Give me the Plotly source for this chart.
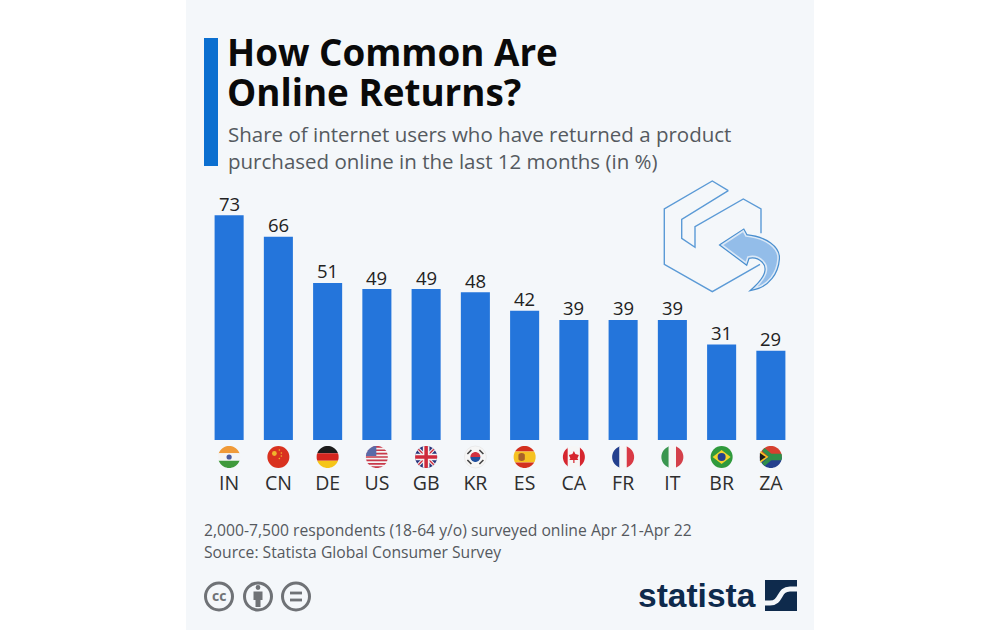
import math
import plotly.graph_objects as go

categories = ["IN", "CN", "DE", "US", "GB", "KR", "ES", "CA", "FR", "IT", "BR", "ZA"]
shares = [73, 66, 51, 49, 49, 48, 42, 39, 39, 39, 31, 29]

title_lines = ["How Common Are", "Online Returns?"]
subtitle_lines = ["Share of internet users who have returned a product",
                  "purchased online in the last 12 months (in %)"]
footer_lines = ["2,000-7,500 respondents (18-64 y/o) surveyed online Apr 21-Apr 22",
                "Source: Statista Global Consumer Survey"]

BAR_BLUE = "#2475db"
NAVY = "#0e2a4c"
CARD = "#f4f7fa"
FONT = "Open Sans"
W, H = 1000, 630
PLOT_LEFT, PLOT_RIGHT = 204.5, 795.5
BASE_Y, TOP_Y = 440, 193.6
STEP = (PLOT_RIGHT - PLOT_LEFT) / len(categories)

shapes = []


def fx(x):
    return x / W


def fy(y):
    return 1 - y / H


def poly(points, fill):
    d = "M " + " L ".join(f"{fx(x):.5f},{fy(y):.5f}" for x, y in points) + " Z"
    shapes.append(dict(type="path", xref="paper", yref="paper", path=d, fillcolor=fill,
                       line=dict(width=0), layer="above"))


def curve(cmds, fill=None, color=None, width=1.5):
    # cmds: list of (letter, x1, y1, x2, y2 ...) in pixels
    parts = []
    for c in cmds:
        vals = c[1:]
        pts = [f"{fx(vals[i]):.5f},{fy(vals[i + 1]):.5f}" for i in range(0, len(vals), 2)]
        parts.append(c[0] + " " + " ".join(pts))
    shapes.append(dict(type="path", xref="paper", yref="paper", path=" ".join(parts),
                       fillcolor=fill if fill else "rgba(0,0,0,0)",
                       line=dict(color=color if color else "rgba(0,0,0,0)", width=width if color else 0),
                       layer="above"))


def seg(x0, y0, x1, y1, color, width):
    shapes.append(dict(type="line", xref="paper", yref="paper", x0=fx(x0), y0=fy(y0), x1=fx(x1), y1=fy(y1),
                       line=dict(color=color, width=width), layer="above"))


def disc(cx, cy, r, fill, line=None, width=0):
    shapes.append(dict(type="circle", xref="paper", yref="paper", x0=fx(cx - r), x1=fx(cx + r),
                       y0=fy(cy + r), y1=fy(cy - r), fillcolor=fill,
                       line=dict(color=line if line else "rgba(0,0,0,0)", width=width), layer="above"))


def clip_rect(cx, cy, r, u0, v0, u1, v1, fill):
    # rectangle in unit flag coordinates (-1..1), cut to the flag's circle
    pts = []
    for k in range(48):
        a = 2 * math.pi * k / 48
        u = min(max(math.cos(a), u0), u1)
        v = min(max(math.sin(a), v0), v1)
        pts.append((cx + u * r, cy + v * r))
    poly(pts, fill)


def stripes_h(cx, cy, r, colors, cuts):
    for i, c in enumerate(colors):
        clip_rect(cx, cy, r, -1, cuts[i], 1, cuts[i + 1], c)


def stripes_v(cx, cy, r, colors, cuts):
    for i, c in enumerate(colors):
        clip_rect(cx, cy, r, cuts[i], -1, cuts[i + 1], 1, c)


def flag(code, cx, cy, r):
    third = [-1, -0.33, 0.33, 1]
    if code == "IN":
        stripes_h(cx, cy, r, ["#f09a38", "#f4f4f4", "#3f9a3c"], third)
        disc(cx, cy, 2.6, "#4a5a9e")
    elif code == "CN":
        disc(cx, cy, r, "#d9321f")
        disc(cx - 4, cy - 3.5, 2.4, "#f0b52c")
        for dx, dy in [(1, -7), (3, -4), (3, -1), (1, 1.5)]:
            disc(cx + dx, cy + dy, 0.8, "#f0b52c")
    elif code == "DE":
        stripes_h(cx, cy, r, ["#1c1c1c", "#d4261f", "#f5c518"], third)
    elif code == "US":
        disc(cx, cy, r, "#f4f4f4")
        for i in range(0, 7):
            v0 = -1 + i * 2 / 6.5
            clip_rect(cx, cy, r, -1, v0, 1, v0 + 0.155, "#c8394a")
        clip_rect(cx, cy, r, -1, -1, -0.05, -0.08, "#5a6aa8")
    elif code == "GB":
        disc(cx, cy, r, "#27327a")
        d = r * 0.7
        seg(cx - d, cy - d, cx + d, cy + d, "#f4f4f4", 3.4)
        seg(cx - d, cy + d, cx + d, cy - d, "#f4f4f4", 3.4)
        seg(cx - d, cy - d, cx + d, cy + d, "#cf2a3c", 1.3)
        seg(cx - d, cy + d, cx + d, cy - d, "#cf2a3c", 1.3)
        clip_rect(cx, cy, r, -0.3, -1, 0.3, 1, "#f4f4f4")
        clip_rect(cx, cy, r, -1, -0.3, 1, 0.3, "#f4f4f4")
        clip_rect(cx, cy, r, -0.16, -1, 0.16, 1, "#cf2a3c")
        clip_rect(cx, cy, r, -1, -0.16, 1, 0.16, "#cf2a3c")
    elif code == "KR":
        disc(cx, cy, r, "#f6f6f6", "#e2e2e2", 0.6)
        clip_rect(cx, cy, 5, -1, -1, 1, 0, "#d1303f")
        clip_rect(cx, cy, 5, -1, 0, 1, 1, "#1f4f9e")
        seg(cx - 8, cy - 3, cx - 4, cy - 7, "#444444", 1.6)
        seg(cx + 4, cy - 7, cx + 8, cy - 3, "#444444", 1.6)
        seg(cx - 8, cy + 3, cx - 4, cy + 7, "#444444", 1.6)
        seg(cx + 4, cy + 7, cx + 8, cy + 3, "#444444", 1.6)
    elif code == "ES":
        stripes_h(cx, cy, r, ["#d3301f", "#f6c221", "#d3301f"], [-1, -0.5, 0.5, 1])
        clip_rect(cx - 3, cy, 4, -0.8, -1, 0.8, 1, "#a8622a")
    elif code == "CA":
        stripes_v(cx, cy, r, ["#d6262f", "#f6f6f6", "#d6262f"], [-1, -0.55, 0.55, 1])
        poly([(cx, cy - 6), (cx + 1.5, cy - 3), (cx + 5, cy - 2), (cx + 3.5, cy + 1.5), (cx + 4.5, cy + 3),
              (cx + 0.6, cy + 3), (cx + 0.6, cy + 6), (cx - 0.6, cy + 6), (cx - 0.6, cy + 3), (cx - 4.5, cy + 3),
              (cx - 3.5, cy + 1.5), (cx - 5, cy - 2), (cx - 1.5, cy - 3)], "#d6262f")
    elif code == "FR":
        stripes_v(cx, cy, r, ["#24408e", "#f6f6f6", "#d93a45"], third)
    elif code == "IT":
        stripes_v(cx, cy, r, ["#3a9650", "#f6f6f6", "#d4404a"], third)
    elif code == "BR":
        disc(cx, cy, r, "#2f9a3c")
        poly([(cx - 9, cy), (cx, cy - 7), (cx + 9, cy), (cx, cy + 7)], "#f3d22b")
        disc(cx, cy, 4, "#24408e")
    elif code == "ZA":
        clip_rect(cx, cy, r, -1, -1, 1, 0, "#d6402f")
        clip_rect(cx, cy, r, -1, 0, 1, 1, "#24408e")
        clip_rect(cx, cy, r, -0.2, -0.3, 1, 0.3, "#2f8f4a")
        seg(cx - 7.5, cy - 7.5, cx + 1, cy, "#2f8f4a", 4)
        seg(cx - 7.5, cy + 7.5, cx + 1, cy, "#2f8f4a", 4)
        poly([(cx - 10.5, cy - 6), (cx - 2.5, cy), (cx - 10.5, cy + 6)], "#f3c522")
        poly([(cx - 11, cy - 4), (cx - 5, cy), (cx - 11, cy + 4)], "#1c1c1c")


def box_icon():
    line = "#5b9ad6"
    curve([("M", 728.3, 190.7), ("L", 712.3, 181), ("L", 664.3, 209), ("L", 664.3, 264.3),
           ("L", 712.3, 291.7), ("L", 760, 264.3)], color=line, width=1.4)
    curve([("M", 728.3, 190.7), ("L", 681.7, 219.3), ("L", 681.7, 238.3), ("L", 695, 247.3),
           ("L", 695, 226.7), ("L", 743.3, 199), ("L", 761, 209), ("L", 761, 233.3)], color=line, width=1.4)
    arrow = [("M", 722, 245), ("L", 743.3, 231), ("L", 746, 236),
             ("C", 766, 238, 779, 248, 778, 259), ("C", 777, 273, 768, 285, 755, 288),
             ("C", 766, 278, 770, 268, 763, 261), ("C", 758, 256, 752, 256, 748, 257),
             ("L", 746, 263), ("Z",)]
    curve(arrow, fill="#93bde9", color="#4a8fcf", width=4)
    curve(arrow, fill="#93bde9", color="#dbe8f6", width=1.6)


def cc_icons():
    gray = "#6f7276"
    for cx in [219, 258, 296]:
        disc(cx, 596.5, 13.5, "rgba(0,0,0,0)", gray, 3)
    disc(258, 587.5, 2.4, gray)
    poly([(253.5, 591.5), (262.5, 591.5), (262.5, 600), (260.5, 600), (260.5, 607), (255.5, 607), (255.5, 600), (253.5, 600)], gray)
    seg(290, 593, 302, 593, gray, 2.8)
    seg(290, 600, 302, 600, gray, 2.8)


def statista_mark():
    poly([(765, 580), (797, 580), (797, 611), (765, 611)], NAVY)
    curve([("M", 762, 603), ("L", 770, 603), ("C", 782, 603, 778, 589, 790, 589), ("L", 800, 589)],
          color=CARD, width=5)


# card behind everything
shapes.append(dict(type="rect", xref="paper", yref="paper", x0=fx(186), x1=fx(814), y0=0, y1=1,
                   fillcolor=CARD, line=dict(width=0), layer="below"))
# title accent
shapes.append(dict(type="rect", xref="paper", yref="paper", x0=fx(204), x1=fx(218), y0=fy(166), y1=fy(38),
                   fillcolor="#0b6fd0", line=dict(width=0), layer="below"))

for i, code in enumerate(categories):
    flag(code, PLOT_LEFT + STEP * (i + 0.5), 457, 11)
box_icon()
cc_icons()
statista_mark()

fig = go.Figure(go.Bar(
    x=categories, y=shares, width=0.59, marker=dict(color=BAR_BLUE, line=dict(width=0)), hoverinfo="skip",
))

annotations = []


def text(x, y, s, size, color, bold=False, family=FONT, xanchor="left"):
    annotations.append(dict(xref="paper", yref="paper", x=fx(x), y=fy(y), text=f"<b>{s}</b>" if bold else s,
                            showarrow=False, xanchor=xanchor, yanchor="middle", align="left",
                            font=dict(family=family, size=size, color=color)))


text(225, 52, title_lines[0], 36.8, "#0a0a0a", bold=True)
text(225, 92, title_lines[1], 36.8, "#0a0a0a", bold=True)
text(226, 134, subtitle_lines[0], 20.5, "#555a60")
text(226, 161, subtitle_lines[1], 20.5, "#555a60")
text(202, 530, footer_lines[0], 15.7, "#55595e")
text(202, 552, footer_lines[1], 15.7, "#55595e")
text(219, 595.5, "cc", 14, "#6f7276", bold=True, xanchor="center")
text(758, 595, "statista", 33.5, NAVY, bold=True, family="Liberation Sans", xanchor="right")

# value labels sit closer to the bars than textposition="outside" allows
for cat, val in zip(categories, shares):
    annotations.append(dict(xref="x", yref="y", x=cat, y=val, text=str(val), showarrow=False,
                            yanchor="middle", yshift=12,
                            font=dict(family=FONT, size=18.5, color="#222222")))

fig.update_layout(
    width=W, height=H, margin=dict(l=0, r=0, t=0, b=0),
    paper_bgcolor="#ffffff", plot_bgcolor="rgba(0,0,0,0)", showlegend=False,
    shapes=shapes, annotations=annotations,
    xaxis=dict(domain=[fx(PLOT_LEFT), fx(PLOT_RIGHT)], type="category", categoryorder="array", categoryarray=categories,
               ticks="outside", ticklen=26, tickcolor="rgba(0,0,0,0)", showline=False, showgrid=False,
               tickfont=dict(family=FONT, size=19.5, color="#2e2e2e"), fixedrange=True),
    yaxis=dict(domain=[fy(BASE_Y), fy(TOP_Y)], range=[0, 80], visible=False, fixedrange=True),
)

fig.write_html("out.html", config={"displayModeBar": False},
               post_script="document.body.style.margin='0';document.body.style.overflow='hidden';")
